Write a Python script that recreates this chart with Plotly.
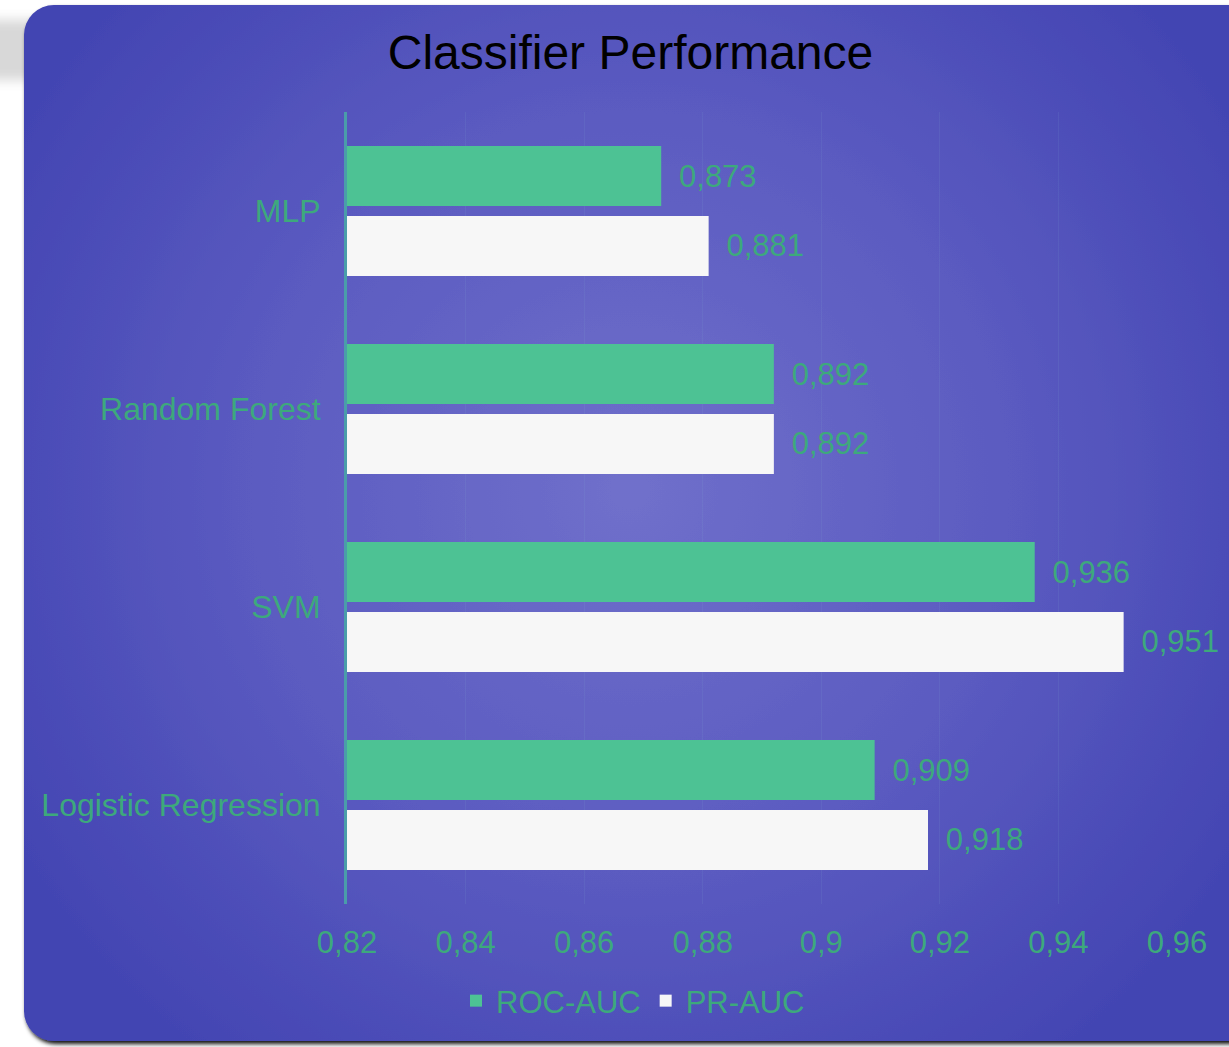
import base64
import plotly.graph_objects as go

categories = ["MLP", "Random Forest", "SVM", "Logistic Regression"]
roc_auc = [0.873, 0.892, 0.936, 0.909]
pr_auc = [0.881, 0.892, 0.951, 0.918]
series_names = ["ROC-AUC", "PR-AUC"]
x_ticks = [0.82, 0.84, 0.86, 0.88, 0.90, 0.92, 0.94, 0.96]

W, H = 1229, 1047
L, R, T, B = 347, 52, 112, 143
pw, ph = W - L - R, H - T - B

FONT = "Liberation Sans, Arial, sans-serif"
LABEL_GREEN = "#3DA97C"

svg = f"""<svg xmlns='http://www.w3.org/2000/svg' width='{W}' height='{H}' viewBox='0 0 {W} {H}' preserveAspectRatio='none'>
<defs>
<radialGradient id='g' cx='630' cy='490' r='720' gradientUnits='userSpaceOnUse'>
<stop offset='0' stop-color='#7070CB'/>
<stop offset='0.55' stop-color='#5A5AC0'/>
<stop offset='1' stop-color='#4244B2'/>
</radialGradient>
<filter id='s' x='-5%' y='-5%' width='110%' height='110%'>
<feDropShadow dx='2' dy='3' stdDeviation='2' flood-color='#000' flood-opacity='0.95'/>
</filter>
<filter id='s2' x='-20%' y='-20%' width='140%' height='140%'>
<feGaussianBlur stdDeviation='6'/>
</filter>
</defs>
<rect x='-30' y='20' width='200' height='60' fill='#d8d8d8' filter='url(#s2)'/>
<rect x='24' y='5' width='1240' height='1036' rx='30' ry='30' fill='url(#g)' filter='url(#s)'/>
</svg>"""
src = "data:image/svg+xml;base64," + base64.b64encode(svg.encode()).decode()

fig = go.Figure()
fig.add_trace(go.Bar(
    y=categories, x=roc_auc, name=series_names[0], orientation="h",
    marker=dict(color="#4DC294", line=dict(width=0)),
    texttemplate="\u00a0\u2009%{x:.3f}", textposition="outside",
    textfont=dict(color=LABEL_GREEN, size=31, family=FONT),
    cliponaxis=False,
))
fig.add_trace(go.Bar(
    y=categories, x=pr_auc, name=series_names[1], orientation="h",
    marker=dict(color="#F7F7F7", line=dict(width=0)),
    texttemplate="\u00a0\u2009%{x:.3f}", textposition="outside",
    textfont=dict(color=LABEL_GREEN, size=31, family=FONT),
    cliponaxis=False,
))

fig.update_layout(
    width=W, height=H, autosize=False,
    margin=dict(l=L, r=R, t=T, b=B, pad=0),
    paper_bgcolor="white", plot_bgcolor="rgba(0,0,0,0)",
    separators=",.",
    barmode="group", bargap=0.293, bargroupgap=0.143,
    font=dict(family=FONT, color=LABEL_GREEN, size=32),
    title=dict(text="Classifier Performance", x=0.513, y=1 - 52 / H,
               xref="container", yref="container",
               xanchor="center", yanchor="middle",
               font=dict(size=48, color="black", family=FONT)),
    xaxis=dict(range=[0.82, 0.96], tickvals=x_ticks, showgrid=True,
               gridcolor="rgba(140,190,220,0.10)", gridwidth=1,
               zeroline=False, showline=False, ticks="",
               tickfont=dict(size=31, color=LABEL_GREEN),
               ticklabelstandoff=17),
    yaxis=dict(autorange="reversed", showline=True, linecolor="#4A9DAA",
               linewidth=3, showgrid=False, ticks="",
               tickfont=dict(size=32, color=LABEL_GREEN),
               ticklabelstandoff=17),
    showlegend=True,
    legend=dict(orientation="h", x=(633 - L) / pw, xanchor="center",
                y=(H - B - 1001) / ph, yanchor="middle",
                bgcolor="rgba(0,0,0,0)", font=dict(size=31, color=LABEL_GREEN),
                itemwidth=30, traceorder="normal"),
    images=[dict(source=src, xref="paper", yref="paper",
                 x=-L / pw, y=1 + T / ph, sizex=W / pw, sizey=H / ph,
                 xanchor="left", yanchor="top", sizing="stretch",
                 layer="below")],
)

fig.write_html("out.html")
